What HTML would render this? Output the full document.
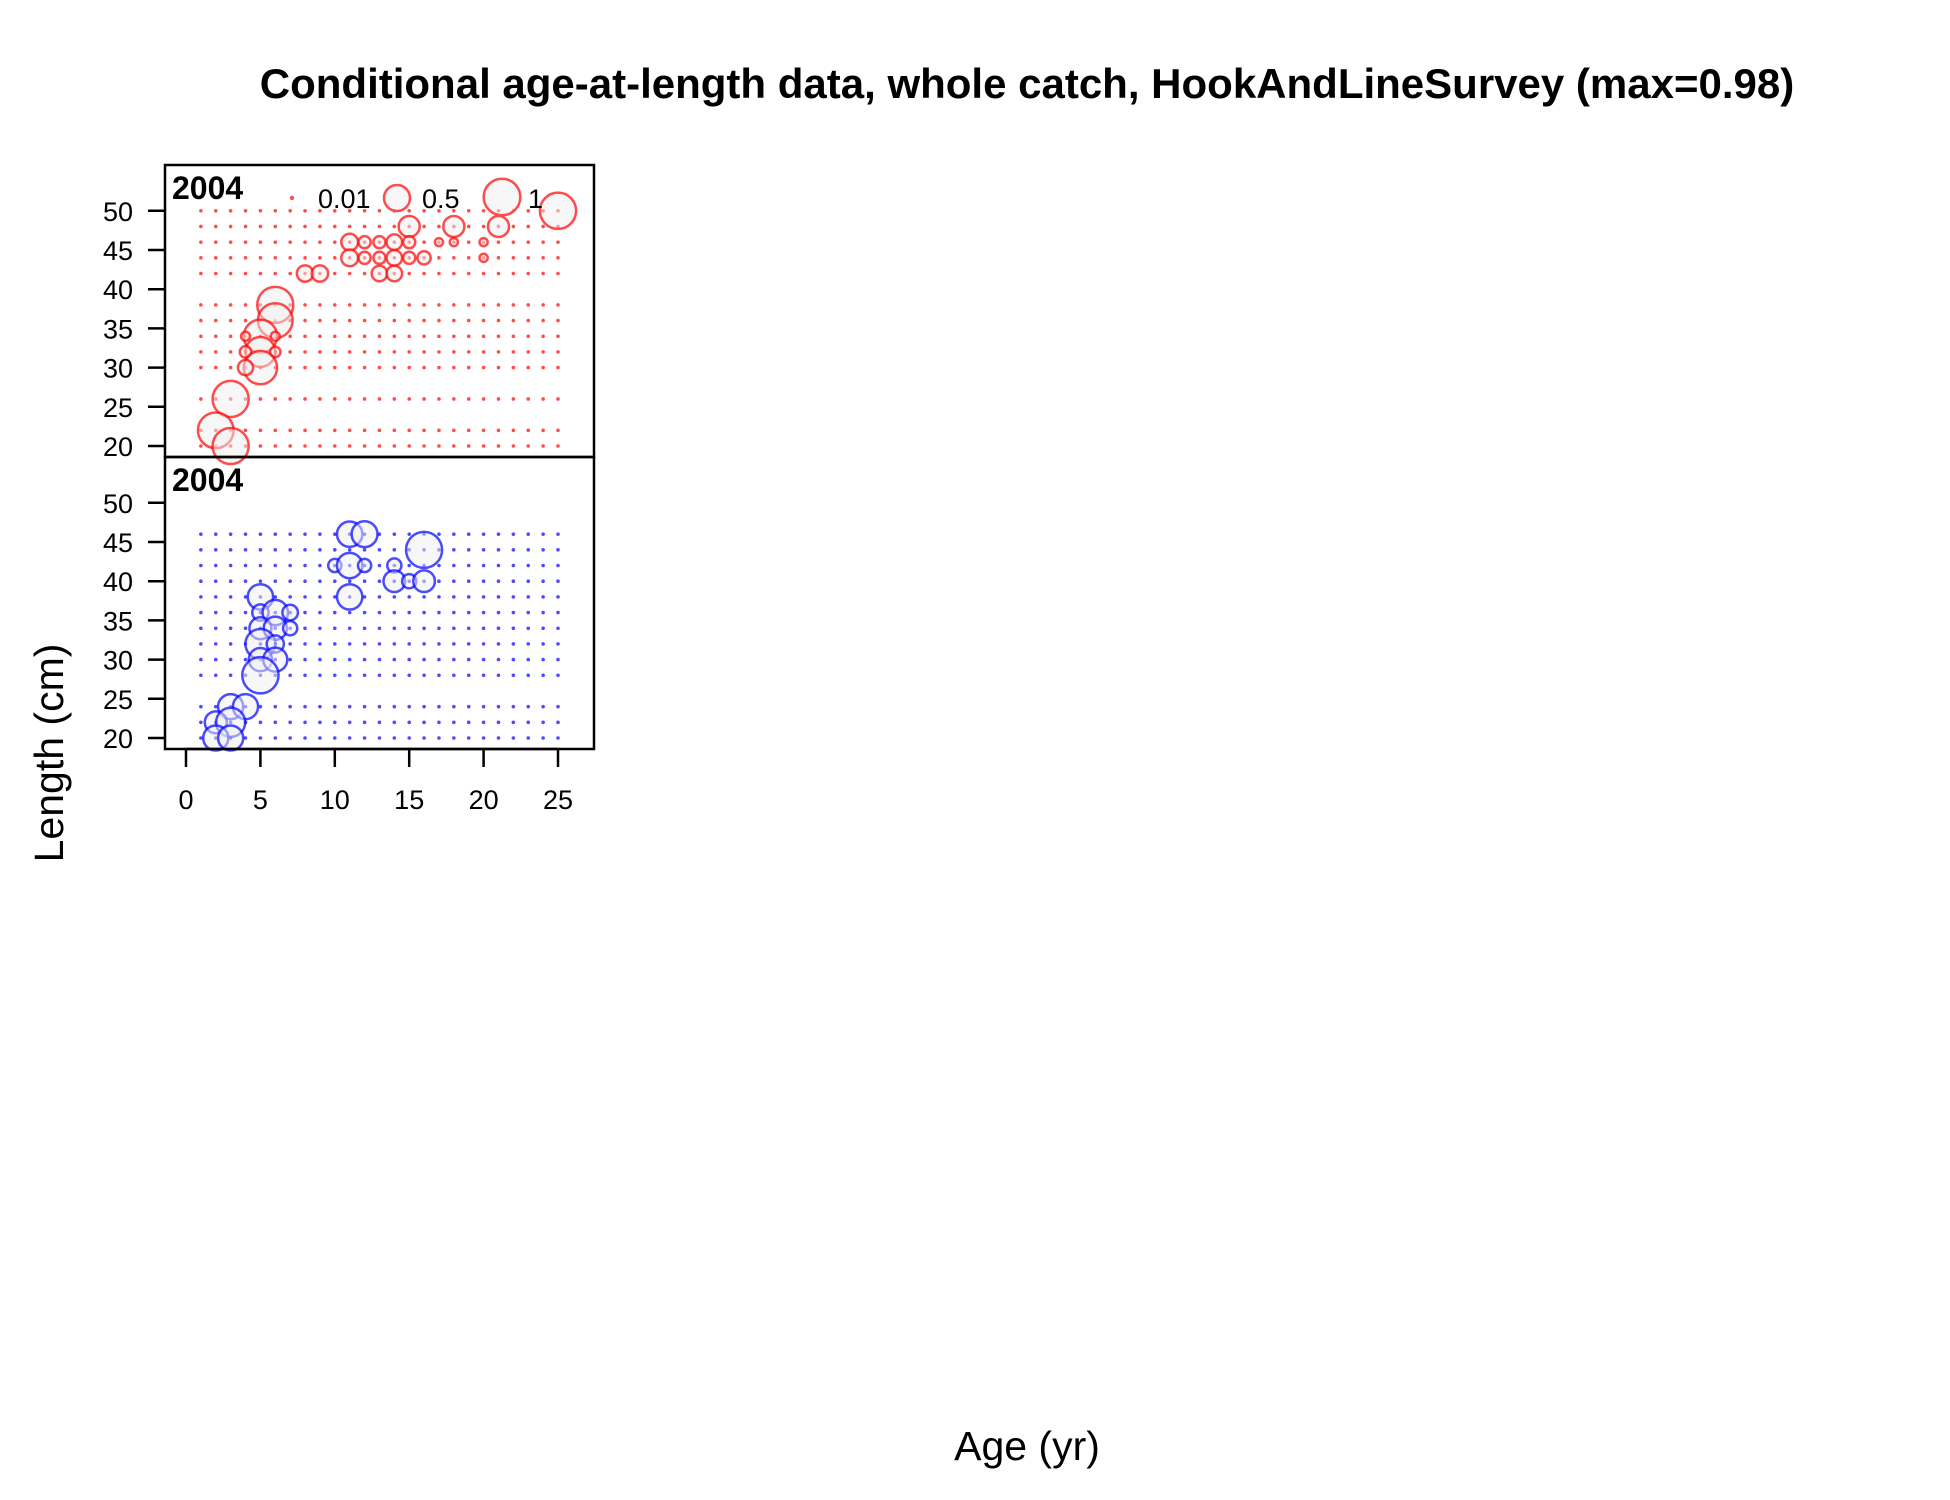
<!DOCTYPE html>
<html><head><meta charset="utf-8">
<style>
html,body{margin:0;padding:0;background:#fff;}
svg{display:block;font-family:"Liberation Sans",Arial,sans-serif;}
</style></head>
<body>
<svg id="chart" width="1950" height="1500" viewBox="0 0 1950 1500" xmlns="http://www.w3.org/2000/svg">
  <rect width="1950" height="1500" fill="#fff"/>
  <text x="1027" y="98" text-anchor="middle" font-size="42" font-weight="bold">Conditional age-at-length data, whole catch, HookAndLineSurvey (max=0.98)</text>
  <text transform="translate(63,753) rotate(-90)" text-anchor="middle" font-size="41">Length (cm)</text>
  <text x="1027" y="1460" text-anchor="middle" font-size="41">Age (yr)</text>
  <g id="marks"></g>
  <rect x="165" y="165" width="429" height="292" fill="none" stroke="#000" stroke-width="2.5"/>
  <rect x="165" y="457" width="429" height="292" fill="none" stroke="#000" stroke-width="2.5"/>
  <text x="172" y="199" font-size="32" font-weight="bold">2004</text>
  <text x="172" y="491" font-size="32" font-weight="bold">2004</text>
  <g id="legend">
    <circle cx="292" cy="198" r="2.2" fill="#ff4d4d"/>
    <text x="318" y="208" font-size="27">0.01</text>
    <circle cx="397" cy="198" r="13" fill="rgba(240,240,240,0.5)" stroke="#ff4d4d" stroke-width="2.5"/>
    <text x="422" y="208" font-size="27">0.5</text>
    <circle cx="502" cy="197" r="18.3" fill="rgba(240,240,240,0.5)" stroke="#ff4d4d" stroke-width="2.5"/>
    <text x="528" y="208" font-size="27">1</text>
  </g>
</svg>
<script>
const xTicks = [0, 5, 10, 15, 20, 25];
const yTicks = [20, 25, 30, 35, 40, 45, 50];
const ageCategories = [1,2,3,4,5,6,7,8,9,10,11,12,13,14,15,16,17,18,19,20,21,22,23,24,25];

const topRowLens = [20,22,26,30,32,34,36,38,42,44,46,48,50];
const topAges = [25, 15,18,21, 11,12,13,14,15,17,18,20, 11,12,13,14,15,16,20, 8,9,13,14, 6, 6, 5,4,6, 5,4,6, 5,4, 3, 2, 3];
const topLens = [50, 48,48,48, 46,46,46,46,46,46,46,46, 44,44,44,44,44,44,44, 42,42,42,42, 38, 36, 34,34,34, 32,32,32, 30,30, 26, 22, 20];
const topVals = [0.98, 0.33,0.33,0.33, 0.21,0.11,0.11,0.18,0.11,0.05,0.05,0.05, 0.21,0.11,0.11,0.18,0.11,0.13,0.05, 0.2,0.2,0.18,0.18, 0.97, 0.9, 0.83,0.06,0.06, 0.67,0.1,0.08, 0.83,0.17, 0.97, 0.95, 0.97];

const botRowLens = [20,22,24,28,30,32,34,36,38,40,42,44,46];
const botAges = [11,12, 16, 10,11,12,14, 14,15,16, 11,5, 5,6,7, 5,6,7, 5,6, 5,6, 5, 3,4, 2,3, 2,3];
const botLens = [46,46, 44, 42,42,42,42, 40,40,40, 38,38, 36,36,36, 34,34,34, 32,32, 30,30, 28, 24,24, 22,22, 20,20];
const botVals = [0.48,0.5, 0.97, 0.13,0.48,0.13,0.15, 0.35,0.15,0.35, 0.48,0.48, 0.2,0.48,0.18, 0.36,0.4,0.15, 0.67,0.22, 0.4,0.43, 0.98, 0.47,0.47, 0.36,0.63, 0.47,0.47];

const NS = "http://www.w3.org/2000/svg";
const marks = document.getElementById('marks');
const svg = document.getElementById('chart');
function xScale(a){ return 186 + a * 14.88; }
function yTop(l){ return 446 - (l - 20) * 7.84; }
function yBot(l){ return 738 - (l - 20) * 7.84; }
function rScale(v){ return 18.3 * Math.sqrt(v); }
function mk(tag, attrs, parent){
  const e = document.createElementNS(NS, tag);
  for (const k in attrs) e.setAttribute(k, attrs[k]);
  (parent || marks).appendChild(e);
  return e;
}

function panel(rowLens, ages, lens, vals, yS, color, prefix){
  const g = mk('g', {});
  
  
  rowLens.forEach(l => {
    ageCategories.forEach(a => {
      const d = mk('circle', {cx: xScale(a), cy: yS(l), r: 1.8, fill: color}, g);
      
      
    });
  });
  ages.forEach((a, i) => {
    const c = mk('circle', {cx: xScale(a), cy: yS(lens[i]), r: rScale(vals[i]), fill: 'rgba(240,240,240,0.5)', stroke: color, 'stroke-width': 2.5}, g);
    
    
  });
}
panel(topRowLens, topAges, topLens, topVals, yTop, 'rgba(255,0,0,0.7)', 'top-panel');
panel(botRowLens, botAges, botLens, botVals, yBot, 'rgba(0,0,255,0.7)', 'bottom-panel');

[[yTop,'top'],[yBot,'bottom']].forEach(([yS,p]) => {
  yTicks.forEach(t => {
    const ln = mk('line', {x1: 148, x2: 165, y1: yS(t), y2: yS(t), stroke: '#000', 'stroke-width': 2.5}, svg);
    
    
    const tx = mk('text', {x: 133, y: yS(t) + 10, 'text-anchor': 'end', 'font-size': 27}, svg);
    tx.textContent = t;
    
    
  });
});
const xa = mk('line', {x1: xScale(0), x2: xScale(25), y1: 749, y2: 749, stroke: '#000', 'stroke-width': 2.5}, svg);


xTicks.forEach(t => {
  const ln = mk('line', {x1: xScale(t), x2: xScale(t), y1: 749, y2: 767, stroke: '#000', 'stroke-width': 2.5}, svg);
  
  
  const tx = mk('text', {x: xScale(t), y: 809, 'text-anchor': 'middle', 'font-size': 27}, svg);
  tx.textContent = t;
  
  
});
</script>
</body></html>
